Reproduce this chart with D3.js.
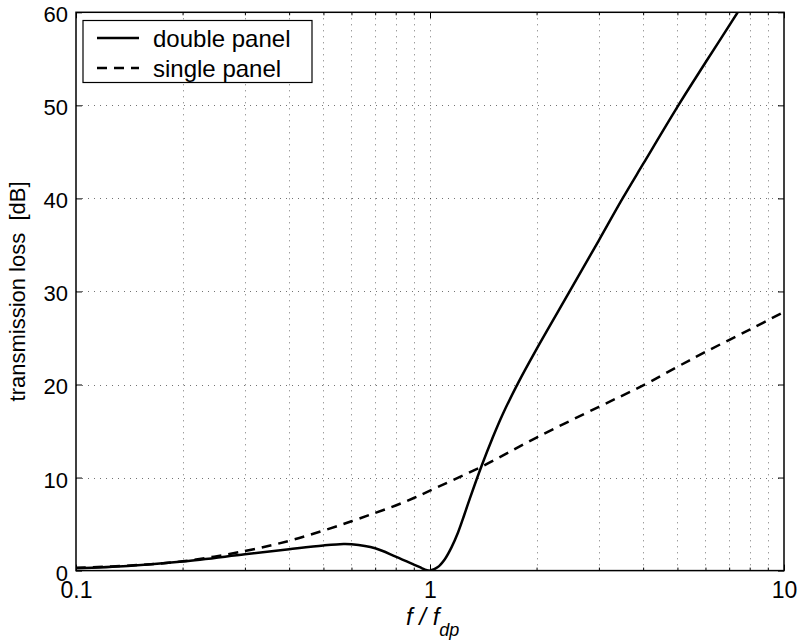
<!DOCTYPE html>
<html>
<head>
<meta charset="utf-8">
<script src="https://cdn.jsdelivr.net/npm/d3@7"></script>
<style>
	body { margin: 0; background: #fff; }
	text { font-family: "Liberation Sans", Arial, Helvetica, sans-serif; }
</style>
</head>
<body>
<svg class="tl"></svg>
<script>
// values (f / f_dp against transmission loss in dB)
const freqDouble = [0.1, 0.14, 0.2, 0.3, 0.4, 0.5, 0.57, 0.6, 0.7, 0.8, 0.9, 0.95, 0.975, 1.0, 1.05, 1.1, 1.15, 1.2, 1.25, 1.3, 1.4, 1.5, 1.6, 1.776, 2.0, 2.48, 3, 3.5, 4, 5.03, 6, 7.4, 7.8];
const lossDouble = [0.25, 0.5, 0.97, 1.75, 2.3, 2.7, 2.86, 2.83, 2.4, 1.5, 0.65, 0.25, 0.07, 0, 0.35, 1.2, 2.5, 4.1, 6.0, 7.9, 11.3, 14.2, 16.7, 20.2, 23.8, 30.0, 35.5, 40.0, 43.7, 50.0, 54.6, 60.0, 61.4];

const freqSingle = [0.1, 0.15, 0.2, 0.3, 0.4, 0.5, 0.6, 0.7, 0.8, 0.9, 1, 1.42, 2, 3, 4, 5, 6, 8, 10];
const lossSingle = [0.3, 0.6, 1.0, 2.1, 3.2, 4.3, 5.3, 6.2, 7.0, 7.8, 8.6, 11.3, 14.3, 17.6, 19.9, 21.9, 23.5, 25.9, 27.8];

const xMajor = [0.1, 1, 10];
const xMinor = [0.2, 0.3, 0.4, 0.5, 0.6, 0.7, 0.8, 0.9, 2, 3, 4, 5, 6, 7, 8, 9];
const yTicks = [0, 10, 20, 30, 40, 50, 60];
const seriesNames = ["double panel", "single panel"];

var drawChart = () => {
	var margin = { top: 12.3, right: 17, bottom: 70.4, left: 76 },
		width = 801,
		height = 641;

	var svg = d3.select(".tl").attr("width", width).attr("height", height);

	let x = d3
		.scaleLog()
		.domain([0.1, 10])
		.range([margin.left, width - margin.right]);

	let y = d3
		.scaleLinear()
		.domain([0, 60])
		.range([height - margin.bottom, margin.top]);

	// dotted grid
	let grid = svg.append("g").attr("stroke", "#000").attr("stroke-opacity", 0.55).attr("stroke-width", 1).attr("stroke-dasharray", "1,5");
	grid
		.selectAll(".gx")
		.data(xMinor.concat([1]))
		.join("line")
		.attr("x1", (d) => Math.round(x(d)) + 0.5)
		.attr("x2", (d) => Math.round(x(d)) + 0.5)
		.attr("y1", y(60))
		.attr("y2", y(0));
	grid
		.selectAll(".gy")
		.data(yTicks.slice(1, -1))
		.join("line")
		.attr("x1", x(0.1))
		.attr("x2", x(10))
		.attr("y1", (d) => Math.round(y(d)) + 0.5)
		.attr("y2", (d) => Math.round(y(d)) + 0.5);

	let line = (xs, ys) =>
		d3
			.line()
			.x((d, i) => x(xs[i]))
			.y((d, i) => y(ys[i]))
			.curve(d3.curveCatmullRom.alpha(0.5))(xs);

	svg
		.append("clipPath")
		.attr("id", "plotclip")
		.append("rect")
		.attr("x", x(0.1))
		.attr("y", y(60))
		.attr("width", x(10) - x(0.1))
		.attr("height", y(0) - y(60));

	let curves = svg.append("g").attr("clip-path", "url(#plotclip)");
	curves
		.append("path")
		.attr("d", line(freqSingle, lossSingle))
		.attr("fill", "none")
		.attr("stroke", "#000")
		.attr("stroke-width", 2.5)
		.attr("stroke-dasharray", "10,7");
	curves
		.append("path")
		.attr("d", line(freqDouble, lossDouble))
		.attr("fill", "none")
		.attr("stroke", "#000")
		.attr("stroke-width", 2.5);

	// axes, ticks pointing inwards like the original
	let clean = (g) => g.call((g) => g.select(".domain").remove()).selectAll("line").attr("stroke", "#000");

	svg
		.append("g")
		.attr("transform", `translate(0,${y(0)})`)
		.call(d3.axisBottom(x).tickValues(xMajor).tickSize(-6).tickPadding(11).tickFormat(d3.format("")))
		.call(clean)
		.call((g) => g.selectAll("text").attr("font-size", 23).attr("fill", "#000").attr("font-family", null));
	svg
		.append("g")
		.attr("transform", `translate(0,${y(0)})`)
		.call(d3.axisBottom(x).tickValues(xMinor).tickSize(-3).tickFormat(""))
		.call(clean);
	svg
		.append("g")
		.attr("transform", `translate(0,${y(60)})`)
		.call(d3.axisTop(x).tickValues(xMajor).tickSize(-6).tickFormat(""))
		.call(clean);
	svg
		.append("g")
		.attr("transform", `translate(0,${y(60)})`)
		.call(d3.axisTop(x).tickValues(xMinor).tickSize(-3).tickFormat(""))
		.call(clean);

	svg
		.append("g")
		.attr("transform", `translate(${x(0.1)},0)`)
		.call(d3.axisLeft(y).tickValues(yTicks).tickSize(-6).tickPadding(8))
		.call(clean)
		.call((g) => g.selectAll("text").attr("font-size", 22).attr("fill", "#000").attr("font-family", null).attr("dy", "0.43em"));
	svg
		.append("g")
		.attr("transform", `translate(${x(10)},0)`)
		.call(d3.axisRight(y).tickValues(yTicks).tickSize(-6).tickFormat(""))
		.call(clean);

	// frame
	svg
		.append("rect")
		.attr("x", x(0.1))
		.attr("y", y(60))
		.attr("width", x(10) - x(0.1))
		.attr("height", y(0) - y(60))
		.attr("fill", "none")
		.attr("stroke", "#000")
		.attr("stroke-width", 1.5);

	// axis labels
	svg
		.append("text")
		.attr("transform", `translate(25,${(y(0) + y(60)) / 2}) rotate(-90)`)
		.attr("text-anchor", "middle")
		.attr("font-size", 22)
		.style("white-space", "pre")
		.text("transmission loss  [dB]");

	let xl = svg.append("text").attr("x", 406).attr("y", 625).attr("font-size", 24).attr("font-style", "italic");
	xl.append("tspan").style("white-space", "pre").text("f / f");
	xl.append("tspan").attr("dy", 11).attr("font-size", 18).text("dp");

	// legend
	let legend = svg.append("g");
	legend
		.append("rect")
		.attr("x", 83)
		.attr("y", 20.5)
		.attr("width", 229)
		.attr("height", 62)
		.attr("fill", "#fff")
		.attr("stroke", "#000")
		.attr("stroke-width", 1.2);
	let items = legend
		.selectAll(".item")
		.data(seriesNames)
		.join("g")
		.attr("transform", (d, i) => `translate(0,${38 + i * 30})`);
	items
		.append("line")
		.attr("x1", 97)
		.attr("x2", 139)
		.attr("stroke", "#000")
		.attr("stroke-width", 2.5)
		.attr("stroke-dasharray", (d, i) => (i === 0 ? null : "10,7"));
	items
		.append("text")
		.attr("x", 153)
		.attr("y", 8.5)
		.attr("font-size", 24)
		.text((d) => d);
};

drawChart();
</script>
</body>
</html>
